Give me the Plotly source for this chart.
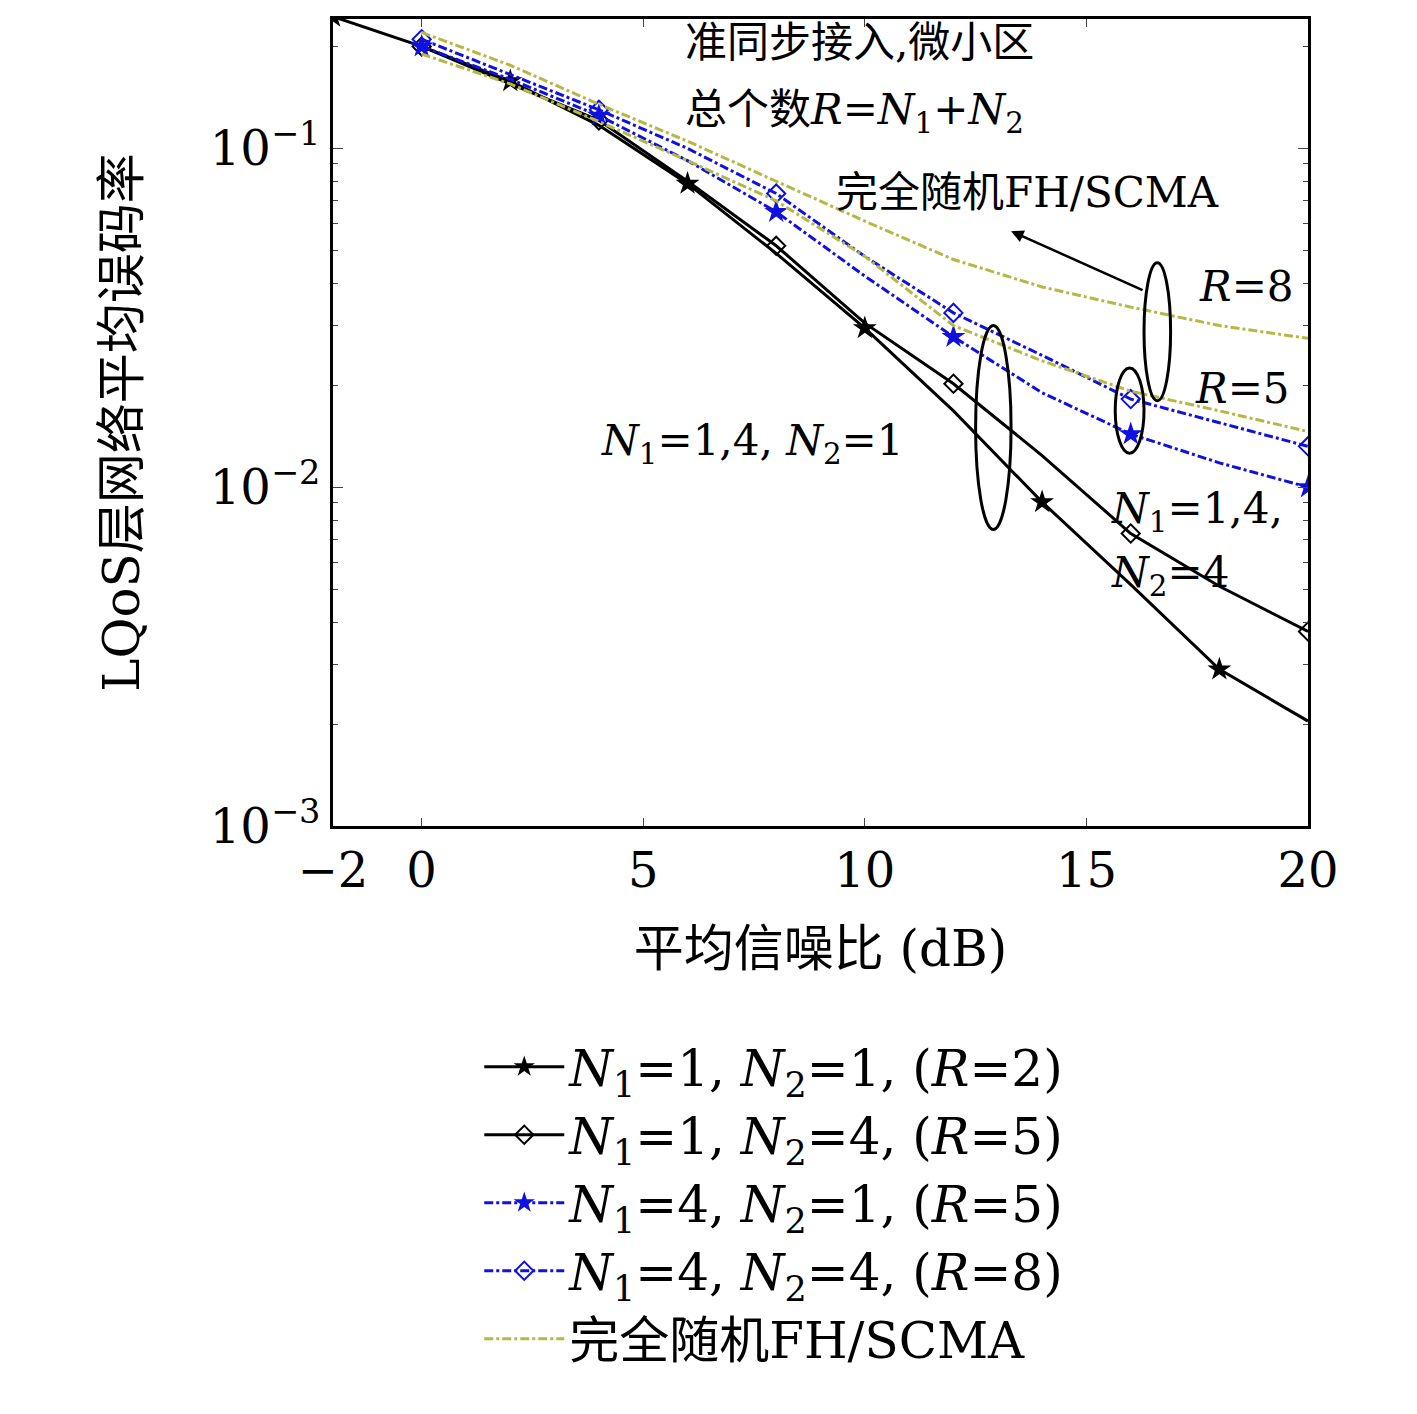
import plotly.graph_objects as go
import math

snr = [-2, 0, 2, 4, 6, 8, 10, 12, 14, 16, 18, 20]
snr0 = [0, 2, 4, 6, 8, 10, 12, 14, 16, 18, 20]
r2 = [0.245, 0.2, 0.158, 0.117, 0.0787, 0.049, 0.0295, 0.0168, 0.00904, 0.00516, 0.0029, 0.00204]
r5a = [0.2, 0.155, 0.121, 0.08, 0.0516, 0.0305, 0.0202, 0.0124, 0.0073, 0.0051, 0.00375]
r5b = [0.2, 0.16, 0.125, 0.092, 0.065, 0.042, 0.0278, 0.019, 0.01435, 0.0118, 0.01]
r8 = [0.21, 0.165, 0.13, 0.1, 0.0736, 0.048, 0.0327, 0.0245, 0.0182, 0.0155, 0.0132]
rnd8 = [0.22, 0.176, 0.135, 0.105, 0.08, 0.061, 0.047, 0.039, 0.034, 0.030, 0.0275]
rnd5 = [0.19, 0.155, 0.12, 0.092, 0.07, 0.048, 0.03, 0.0236, 0.0192, 0.0168, 0.0146]

FONT = "DejaVu Serif, Noto Sans CJK SC"
BLUE = "#1010e0"
fig = go.Figure()

def series(xs, ys, keep, color, dash, symbol, name, mline=0):
    fig.add_trace(go.Scatter(x=xs, y=ys, mode="lines", line=dict(color=color, width=3, dash=dash), showlegend=False))
    mx = [x for x in xs if x in keep]
    my = [y for x, y in zip(xs, ys) if x in keep]
    mk = dict(symbol=symbol, size=18 if "star" in symbol else 14, color=color, line=dict(width=mline, color=color))
    fig.add_trace(go.Scatter(x=mx, y=my, mode="markers", marker=mk, showlegend=False))
    fig.add_trace(go.Scatter(x=[None], y=[None], mode="lines+markers", line=dict(color=color, width=3, dash=dash),
                             marker=mk, name=name))

series(snr, r2, [-2, 2, 6, 10, 14, 18], "black", "solid", "star",
       "<i>N</i><sub>1</sub>=1, <i>N</i><sub>2</sub>=1, (<i>R</i>=2)")
series(snr0, r5a, [0, 4, 8, 12, 16, 20], "black", "solid", "diamond-open",
       "<i>N</i><sub>1</sub>=1, <i>N</i><sub>2</sub>=4, (<i>R</i>=5)", 2)
series(snr0, r5b, [0, 4, 8, 12, 16, 20], BLUE, "dashdot", "star",
       "<i>N</i><sub>1</sub>=4, <i>N</i><sub>2</sub>=1, (<i>R</i>=5)")
series(snr0, r8, [0, 4, 8, 12, 16, 20], BLUE, "dashdot", "diamond-open",
       "<i>N</i><sub>1</sub>=4, <i>N</i><sub>2</sub>=4, (<i>R</i>=8)", 2)
fig.add_trace(go.Scatter(x=snr0, y=rnd8, mode="lines", line=dict(color="#b5b845", width=3, dash="dashdot"),
    name="完全随机FH/SCMA"))
fig.add_trace(go.Scatter(x=snr0, y=rnd5, mode="lines", line=dict(color="#b5b845", width=3, dash="dashdot"),
    showlegend=False))

fig.update_xaxes(range=[-2, 20], tickvals=[-2, 0, 5, 10, 15, 20], ticktext=["−2", "0", "5", "10", "15", "20"],
    ticks="inside", ticklen=8, mirror="ticks", showline=True, linecolor="black", linewidth=3,
    showgrid=False, zeroline=False, tickfont=dict(size=48),
    title=dict(text="平均信噪比 (dB)", font=dict(size=50), standoff=35))
fig.update_yaxes(type="log", range=[-3, -0.618], tickvals=[0.001, 0.01, 0.1],
    ticktext=["10<sup>−3</sup>", "10<sup>−2</sup>", "10<sup>−1</sup>"],
    ticks="inside", ticklen=10, mirror="ticks", showline=True, linecolor="black", linewidth=3,
    minor=dict(ticks="inside", ticklen=5, dtick="D1"),
    showgrid=False, tickfont=dict(size=48),
    title=dict(text="LQoS层网络平均误码率", font=dict(size=50), standoff=55))

def ell(x0, x1, y0, y1):
    fig.add_shape(type="circle", xref="x", yref="y", x0=x0, x1=x1, y0=y0, y1=y1,
                  line=dict(color="black", width=3))
ell(12.5, 13.3, 0.0075, 0.03)
ell(15.65, 16.3, 0.0126, 0.0225)
ell(16.3, 16.9, 0.018, 0.046)

def txt(x, y, t, anchor="left"):
    fig.add_annotation(x=x, y=math.log10(y), text=t, showarrow=False, xanchor=anchor, font=dict(size=42, color="black"))
txt(5.9, 0.205, "准同步接入,微小区")
txt(5.9, 0.128, "总个数<i>R</i>=<i>N</i><sub>1</sub>+<i>N</i><sub>2</sub>")
txt(9.3, 0.074, "完全随机FH/SCMA")
txt(17.5, 0.039, "<i>R</i>=8")
txt(17.4, 0.0195, "<i>R</i>=5")
txt(4.0, 0.0135, "<i>N</i><sub>1</sub>=1,4, <i>N</i><sub>2</sub>=1")
txt(15.5, 0.0085, "<i>N</i><sub>1</sub>=1,4,")
txt(15.5, 0.0055, "<i>N</i><sub>2</sub>=4")
fig.add_annotation(x=13.3, y=math.log10(0.057), ax=16.3, ay=math.log10(0.038), axref="x", ayref="y",
    xref="x", yref="y", showarrow=True, arrowhead=2, arrowwidth=2.5, arrowcolor="black", text="")

fig.update_layout(width=1417, height=1414, plot_bgcolor="white", paper_bgcolor="white",
    font=dict(family=FONT, color="black"),
    margin=dict(l=325, r=117, t=8, b=596),
    legend=dict(x=0.15, y=-0.25, xanchor="left", yanchor="top", font=dict(size=50),
                bgcolor="rgba(0,0,0,0)", tracegroupgap=0, itemwidth=80))
fig.write_html("out.html")
